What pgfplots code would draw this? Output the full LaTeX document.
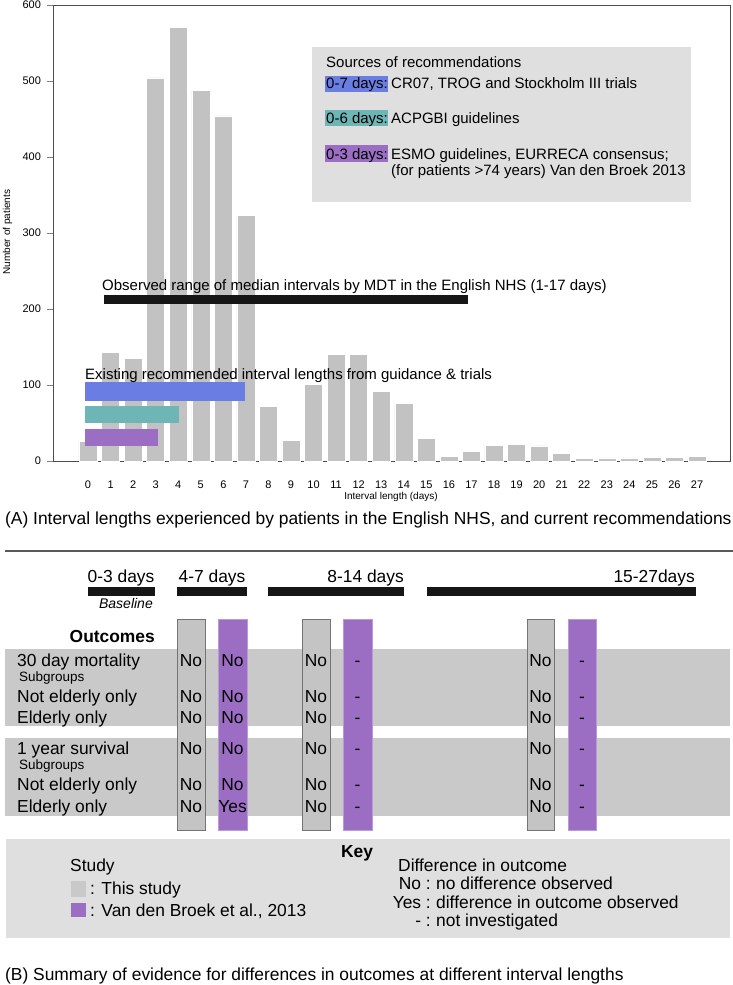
\documentclass[border=0pt]{standalone}
\usepackage{pgfplots}
\pgfplotsset{compat=1.18}
\usepackage{fontspec}
\setmainfont{Liberation Sans}

\definecolor{bargray}{HTML}{C2C2C2}
\definecolor{boxgray}{HTML}{DFDFDF}
\definecolor{bandgray}{HTML}{C9C9C9}
\definecolor{colgray}{HTML}{C4C4C4}
\definecolor{recblue}{RGB}{106,125,226}
\definecolor{recteal}{RGB}{110,181,182}
\definecolor{recpurple}{RGB}{155,110,196}
\definecolor{barblack}{HTML}{161616}

\newcommand{\fs}[1]{\fontsize{#1bp}{#1bp}\selectfont}
% rectangle through the axis: [style]{x1}{y1}{x2}{y2}
\newcommand{\rectp}[5][]{\addplot[#1] coordinates {(#2,#3) (#4,#3) (#4,#5) (#2,#5)} -- cycle;}

\begin{document}
\begin{tikzpicture}
\useasboundingbox (0,0) rectangle (733bp,-985bp);

% ---------- panel A: histogram of interval lengths
\begin{axis}[
  at={(53bp,-461bp)}, anchor=south west,
  scale only axis, width=677bp, height=456bp,
  xmin=-1.552, xmax=28.463, ymin=0, ymax=600,
  xtick={0,...,27}, ytick={0,100,...,600},
  tick align=outside, ytick pos=left,
  xtick style={draw=none},
  major tick length=6bp,
  tick label style={font=\fs{11}},
  xticklabel style={yshift=-10bp},
  yticklabel style={xshift=-2.5bp},
  /pgf/number format/assume math mode=true,
  axis line style={black!70},
  clip=false,
]
\addplot[ybar, bar width=0.8, fill=bargray, draw=white, line width=0.5bp] coordinates {
(0,26) (1,143) (2,135) (3,504) (4,571) (5,488) (6,454) (7,323)
(8,72) (9,27) (10,101) (11,140) (12,140) (13,92) (14,76) (15,30)
(16,6) (17,13) (18,21) (19,22) (20,20) (21,10) (22,3) (23,4)
(24,4) (25,5) (26,5) (27,6)
};
% legend background
\rectp[fill=boxgray, draw=none]{9.93}{341}{26.73}{545}
% observed range of medians (1-17 days)
\rectp[fill=barblack, draw=none]{0.71}{206.5}{16.84}{218}
% recommended ranges
\rectp[fill=recblue, draw=none]{-0.13}{79}{6.96}{104}
\rectp[fill=recteal, draw=none]{-0.13}{50}{4.02}{73}
\rectp[fill=recpurple, draw=none]{-0.13}{20}{3.09}{42.5}
\end{axis}

% ---------- overlay in pixel units: texts and panel B
\begin{axis}[
  at={(0,0)}, anchor=north west,
  scale only axis, width=733bp, height=985bp,
  xmin=0, xmax=733, ymin=0, ymax=985, y dir=reverse,
  hide axis, clip=false,
]
% panel A texts
\node[rotate=90, font=\fs{10}] at (7.5,232) {Number of patients};
\node[font=\fs{10}] at (391,497) {Interval length (days)};

\rectp[fill=recblue, draw=none]{325}{76}{388}{92}
\rectp[fill=recteal, draw=none]{325}{110}{388}{126}
\rectp[fill=recpurple, draw=none]{325}{145}{388}{162}
\begin{scope}[every node/.style={anchor=base west, inner sep=0, font=\fs{15}}]
\node at (326,67) {Sources of recommendations};
\node at (326,88.5) {0-7 days:};
\node at (391,88.5) {CR07, TROG and Stockholm III trials};
\node at (326,123) {0-6 days:};
\node at (391,123) {ACPGBI guidelines};
\node at (326,159) {0-3 days:};
\node at (391,159) {ESMO guidelines, EURRECA consensus;};
\node at (391,175.5) {(for patients >74 years) Van den Broek 2013};
\node at (102,290) {Observed range of median intervals by MDT in the English NHS (1-17 days)};
\node at (85,379) {Existing recommended interval lengths from guidance \& trials};
\end{scope}

\node[anchor=base west, inner sep=0, font=\fs{17.4}] at (5,524)
  {(A) Interval lengths experienced by patients in the English NHS, and current recommendations};

% separator
\addplot[draw=black!65, line width=1.5bp] coordinates {(5,551) (733,551)};

% panel B: interval groups
\rectp[fill=barblack, draw=none]{88}{587}{155}{596}
\rectp[fill=barblack, draw=none]{177}{587}{247}{596}
\rectp[fill=barblack, draw=none]{268}{587}{404}{596}
\rectp[fill=barblack, draw=none]{427}{587}{696}{596}
\begin{scope}[every node/.style={inner sep=0, font=\fs{17.4}}]
\node[anchor=base] at (121,582) {0-3 days};
\node[anchor=base] at (212,582) {4-7 days};
\node[anchor=base east] at (404,582) {8-14 days};
\node[anchor=base east] at (695,582) {15-27days};
\end{scope}
\node[anchor=base east, inner sep=0, font=\fs{14}\itshape] at (153,608) {Baseline};
\node[anchor=base east, inner sep=0, font=\fs{17.4}\bfseries] at (155,642) {Outcomes};

% row bands
\rectp[fill=bandgray, draw=none]{5}{649}{730}{726}
\rectp[fill=bandgray, draw=none]{5}{738}{730}{816}

% study columns
\rectp[fill=colgray, draw=black!55, line width=0.8bp]{177}{619}{205}{830}
\rectp[fill=colgray, draw=black!55, line width=0.8bp]{302}{619}{330}{830}
\rectp[fill=colgray, draw=black!55, line width=0.8bp]{527}{619}{554}{830}
\rectp[fill=recpurple, draw=recpurple!70!white, line width=0.5bp]{218}{619}{247}{830}
\rectp[fill=recpurple, draw=recpurple!70!white, line width=0.5bp]{343}{619}{372}{830}
\rectp[fill=recpurple, draw=recpurple!70!white, line width=0.5bp]{568}{619}{596}{830}

\begin{scope}[every node/.style={anchor=base west, inner sep=0, font=\fs{17.4}}]
\node at (17,666) {30 day mortality};
\node[font=\fs{13.5}] at (19,681.5) {Subgroups};
\node at (17,702) {Not elderly only};
\node at (17,723) {Elderly only};
\node at (17,754) {1 year survival};
\node[font=\fs{13.5}] at (19,769.5) {Subgroups};
\node at (17,790) {Not elderly only};
\node at (17,812) {Elderly only};
\end{scope}

\begin{scope}[every node/.style={anchor=base, inner sep=0, font=\fs{17.4}}]
\pgfplotsinvokeforeach{666,702,723,754,790}{
  \node at (191,#1) {No};
  \node at (232.5,#1) {No};
  \node at (316,#1) {No};
  \node at (357.5,#1) {-};
  \node at (540.5,#1) {No};
  \node at (582,#1) {-};
}
\node at (191,812) {No};
\node at (232.5,812) {Yes};
\node at (316,812) {No};
\node at (357.5,812) {-};
\node at (540.5,812) {No};
\node at (582,812) {-};
\end{scope}

% key
\rectp[fill=boxgray, draw=none]{6}{839}{730}{938}
\rectp[fill=bandgray, draw=none]{71}{881}{86}{897}
\rectp[fill=recpurple, draw=none]{71}{903}{86}{917}
\begin{scope}[every node/.style={anchor=base west, inner sep=0, font=\fs{17.4}}]
\node[anchor=base, font=\fs{17.4}\bfseries] at (357,857) {Key};
\node at (70,871) {Study};
\node at (90,894) {: This study};
\node at (90,916) {: Van den Broek et al., 2013};
\node at (398,871) {Difference in outcome};
\node[anchor=base east] at (431,889) {No :};
\node at (436,889) {no difference observed};
\node[anchor=base east] at (431,908) {Yes :};
\node at (436,908) {difference in outcome observed};
\node[anchor=base east] at (431,926) {- :};
\node at (436,926) {not investigated};
\end{scope}

\node[anchor=base west, inner sep=0, font=\fs{17.4}] at (5,980)
  {(B) Summary of evidence for differences in outcomes at different interval lengths};
\end{axis}
\end{tikzpicture}
\end{document}
